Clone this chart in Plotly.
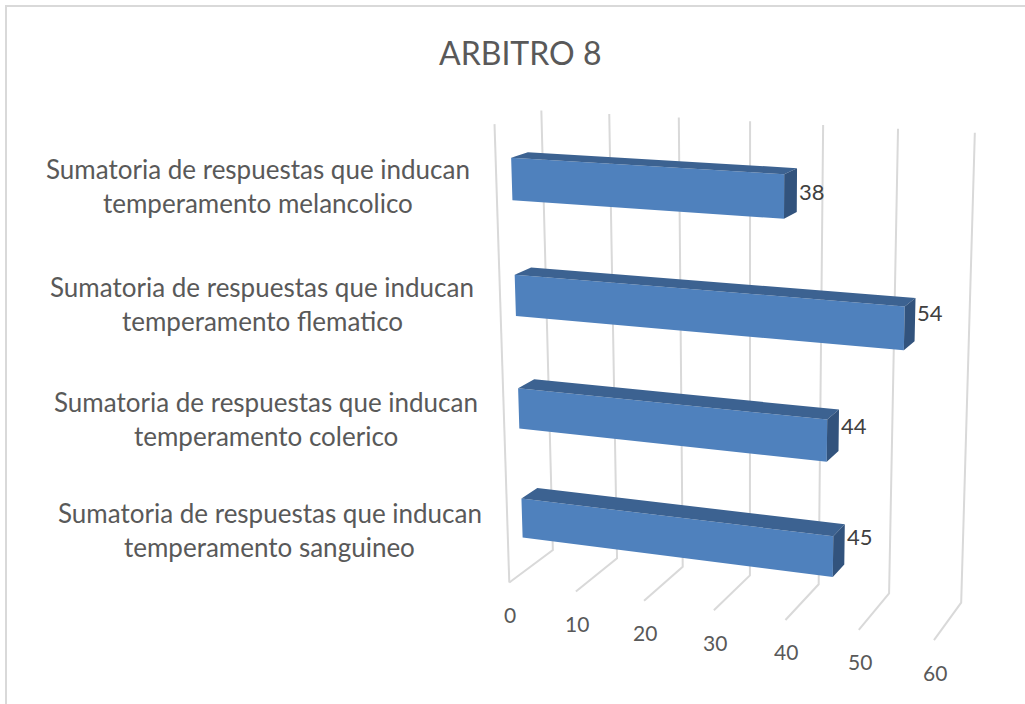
import numpy as np
import plotly.graph_objects as go

title = "ARBITRO 8"
categories = [
    ["Sumatoria de respuestas que inducan", "temperamento sanguineo"],
    ["Sumatoria de respuestas que inducan", "temperamento colerico"],
    ["Sumatoria de respuestas que inducan", "temperamento flematico"],
    ["Sumatoria de respuestas que inducan", "temperamento melancolico"],
]
values = [45, 44, 54, 38]
ticks = [0, 10, 20, 30, 40, 50, 60]

# perspective calibration: (value, depth, height) -> page pixel
VIEW = [
    (0, 0, 0, 509, 582), (10, 0, 0, 576, 592), (20, 0, 0, 644, 601), (40, 0, 0, 785, 620),
    (50, 0, 0, 859, 630), (60, 0, 0, 934, 640), (0, 1, 0, 553, 550), (10, 1, 0, 617, 558),
    (20, 1, 0, 683, 567), (40, 1, 0, 819, 584), (50, 1, 0, 889, 593), (60, 1, 0, 961, 603),
    (0, 1, 1, 541, 111), (10, 1, 1, 609, 114), (20, 1, 1, 679, 117), (30, 1, 1, 750, 121),
    (40, 1, 1, 823, 125), (50, 1, 1, 898, 129), (60, 1, 1, 975, 133), (0, 0, 1, 495, 124),
]
rows = []
for v, d, h, px, py in VIEW:
    X = [v / 60, d, h, 1]
    rows.append(X + [0, 0, 0, 0] + [-px / 1000 * c for c in X])
    rows.append([0, 0, 0, 0] + X + [-py / 1000 * c for c in X])
P = np.linalg.svd(np.array(rows))[2][-1].reshape(3, 4)


def project(v, d, h):
    q = P @ np.array([v / 60, d, h, 1.0])
    return q[0] / q[2] * 1000, q[1] / q[2] * 1000


DEPTH = (0.32, 0.68)
THICK = 0.09
FRONT, TOP, SIDE = "#4F81BD", "#3C6291", "#32537D"
GRID = "#D9D9D9"
LABEL_NUDGE = [-8, -5, -7, 1]

fig = go.Figure()

gx, gy = [], []
for t in ticks:
    for p in [(t, 0, 0), (t, 1, 0), (t, 1, 1)]:
        x, y = project(*p)
        gx.append(x); gy.append(y)
    gx.append(None); gy.append(None)
for p in [(0, 0, 0), (0, 0, 1)]:
    x, y = project(*p)
    gx.append(x); gy.append(y)
fig.add_trace(go.Scatter(x=gx, y=gy, mode="lines", line=dict(color=GRID, width=2), hoverinfo="skip"))


def face(corners):
    pts = [project(*c) for c in corners] + [project(*corners[0])]
    return [p[0] for p in pts] + [None], [p[1] for p in pts] + [None]


faces = {FRONT: ([], []), TOP: ([], []), SIDE: ([], [])}
for i, val in enumerate(values):
    c = (i + 0.5) / len(values)
    h0, h1 = c - THICK / 2, c + THICK / 2
    d0, d1 = DEPTH
    for col, corners in [
        (FRONT, [(0, d0, h0), (val, d0, h0), (val, d0, h1), (0, d0, h1)]),
        (TOP, [(0, d0, h1), (val, d0, h1), (val, d1, h1), (0, d1, h1)]),
        (SIDE, [(val, d0, h0), (val, d1, h0), (val, d1, h1), (val, d0, h1)]),
    ]:
        fx, fy = face(corners)
        faces[col][0].extend(fx); faces[col][1].extend(fy)
for col, (fx, fy) in faces.items():
    fig.add_trace(go.Scatter(x=fx, y=fy, mode="lines", fill="toself", fillcolor=col,
                             line=dict(width=0, color=col), hoverinfo="skip"))

FONT = "Lato"
ann = []
for t in ticks:
    x, y = project(t, 0, 0)
    ann.append(dict(x=x + 1, y=y + 32, text=str(t), font=dict(size=21, color="#595959")))
for i, (val, cat) in enumerate(zip(values, categories)):
    c = (i + 0.5) / len(values)
    x, y = project(val, DEPTH[1], c)
    ann.append(dict(x=x + 15, y=y + LABEL_NUDGE[i], text=str(val), font=dict(size=22, color="#404040")))
    x0, y0 = project(0, 0, c)
    for k, line in enumerate(cat):
        ann.append(dict(x=x0 - 238, y=y0 + 1.5 + (k - 0.5) * 34, text=line,
                        font=dict(size=26, color="#595959")))
ann.append(dict(x=520, y=52, text=title, font=dict(size=32, color="#595959")))
for a in ann:
    a.update(xref="x", yref="y", showarrow=False, xanchor="center", yanchor="middle")
    a["font"]["family"] = FONT

fig.update_layout(
    width=1025, height=704, margin=dict(l=0, r=0, t=0, b=0), showlegend=False,
    paper_bgcolor="white", plot_bgcolor="white", annotations=ann,
    xaxis=dict(range=[0, 1025], visible=False, fixedrange=True),
    yaxis=dict(range=[704, 0], visible=False, fixedrange=True),
    shapes=[dict(type="rect", xref="x", yref="y", x0=6, y0=6, x1=1040, y1=720,
                 line=dict(color=GRID, width=2), layer="below")],
)
fig.write_html("out.html", config=dict(displayModeBar=False),
               post_script="document.body.style.margin='0';document.body.style.overflow='hidden';")
